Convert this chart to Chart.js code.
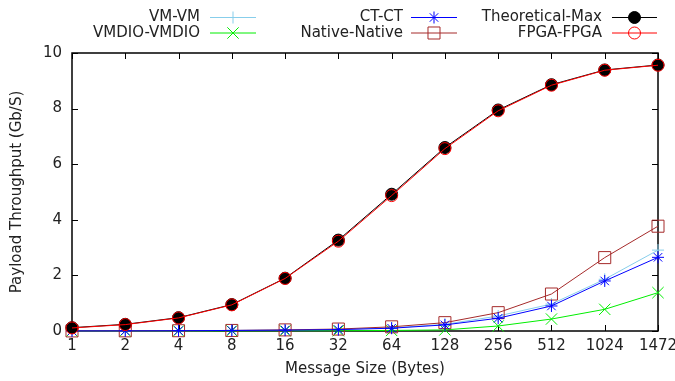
<!DOCTYPE html>
<html>
<head>
<meta charset="utf-8">
<script src="https://cdn.jsdelivr.net/npm/chart.js@4.4.1/dist/chart.umd.min.js"></script>
<style>
html,body{margin:0;padding:0;background:#fff;}
#wrap{width:675px;height:381px;position:relative;}
</style>
</head>
<body>
<div id="wrap"><canvas id="c" width="675" height="381"></canvas></div>
<script>
const categories = ["1","2","4","8","16","32","64","128","256","512","1024","1472"];
const yTicks = [0,2,4,6,8,10];
const vmVm      = [0.003,0.005,0.01,0.02,0.03,0.06,0.11,0.24,0.54,0.97,1.86,2.91];
const vmdio     = [0.001,0.002,0.004,0.006,0.01,0.01,0.02,0.04,0.18,0.43,0.78,1.38];
const ctCt      = [0.003,0.005,0.01,0.02,0.03,0.05,0.10,0.22,0.46,0.90,1.80,2.65];
const native    = [0.003,0.006,0.01,0.02,0.04,0.07,0.15,0.30,0.66,1.33,2.64,3.77];
const theoMax   = [0.12,0.24,0.48,0.95,1.90,3.27,4.92,6.60,7.95,8.86,9.39,9.57];
const fpga      = [0.11,0.23,0.47,0.94,1.89,3.23,4.87,6.56,7.92,8.84,9.38,9.56];

const FONT = '"DejaVu Sans", sans-serif';
const FS = 15;
const datasets = [
  {label:'VM-VM', data:vmVm, borderColor:'#87ceeb', backgroundColor:'#87ceeb', pointStyle:'cross', pointRadius:6, order:5},
  {label:'VMDIO-VMDIO', data:vmdio, borderColor:'#00ee00', backgroundColor:'#00ee00', pointStyle:'crossRot', pointRadius:8, order:4},
  {label:'CT-CT', data:ctCt, borderColor:'#0000ff', backgroundColor:'#0000ff', pointStyle:'star', pointRadius:6, order:2},
  {label:'Native-Native', data:native, borderColor:'#a52a2a', backgroundColor:'rgba(0,0,0,0)', pointStyle:'rect', pointRadius:8.5, order:3},
  {label:'Theoretical-Max', data:theoMax, borderColor:'#000000', backgroundColor:'#000000', pointStyle:'circle', pointRadius:6, order:1},
  {label:'FPGA-FPGA', data:fpga, borderColor:'#ff0000', backgroundColor:'rgba(0,0,0,0)', pointStyle:'circle', pointRadius:6, order:0}
].map(d => Object.assign({borderWidth:1, pointBorderWidth:1, tension:0, fill:false, pointBorderColor:d.borderColor, pointBackgroundColor:d.backgroundColor}, d));

const framePlugin = {
  id:'frame',
  beforeDatasetsDraw(chart){
    const ctx = chart.ctx, a = chart.chartArea;
    const xs = chart.scales.x, ys = chart.scales.y;
    ctx.save();
    ctx.strokeStyle = '#000';
    ctx.lineWidth = 1;
    ctx.beginPath();
    const tl = 6;
    yTicks.forEach(v => {
      const y = Math.round(ys.getPixelForValue(v)) + 0.5;
      ctx.moveTo(a.left, y); ctx.lineTo(a.left + tl, y);
      ctx.moveTo(a.right, y); ctx.lineTo(a.right - tl, y);
    });
    categories.forEach((c,i) => {
      const x = Math.round(xs.getPixelForValue(i)) + 0.5;
      ctx.moveTo(x, a.bottom); ctx.lineTo(x, a.bottom - tl);
      ctx.moveTo(x, a.top); ctx.lineTo(x, a.top + tl);
    });
    ctx.stroke();
    ctx.lineWidth = 1.5;
    ctx.strokeRect(a.left, a.top, a.right - a.left, a.bottom - a.top);
    ctx.fillStyle = '#222';
    ctx.font = FS + 'px ' + FONT;
    ctx.textBaseline = 'middle';
    ctx.textAlign = 'right';
    yTicks.forEach(v => ctx.fillText(String(v), a.left - 10, ys.getPixelForValue(v)));
    ctx.textAlign = 'center';
    categories.forEach((c,i) => ctx.fillText(c, xs.getPixelForValue(i), a.bottom + 15));
    ctx.fillText('Message Size (Bytes)', (a.left + a.right)/2, 369);
    ctx.save();
    ctx.translate(17, (a.top + a.bottom)/2);
    ctx.rotate(-Math.PI/2);
    ctx.fillText('Payload Throughput (Gb/S)', 0, 0);
    ctx.restore();
    // legend
    const cols = [{tx:200, s0:210, s1:256}, {tx:403, s0:411, s1:457}, {tx:602, s0:612, s1:657}];
    const rows = [17.5, 33];
    chart.data.datasets.forEach((d,i) => {
      const col = cols[Math.floor(i/2)], y = rows[i%2];
      ctx.fillStyle = '#222';
      ctx.textAlign = 'right';
      ctx.fillText(d.label, col.tx, y);
      ctx.strokeStyle = d.borderColor;
      ctx.lineWidth = 1;
      ctx.beginPath(); ctx.moveTo(col.s0, y); ctx.lineTo(col.s1, y); ctx.stroke();
      ctx.fillStyle = d.pointBackgroundColor;
      Chart.helpers.drawPoint(ctx, {pointStyle:d.pointStyle, radius:d.pointRadius, rotation:0, borderWidth:1}, (col.s0+col.s1)/2, y);
    });
    ctx.restore();
  }
};

new Chart(document.getElementById('c'), {
  type:'line',
  data:{labels:categories, datasets},
  options:{
    responsive:false,
    animation:false,
    layout:{padding:{left:72, right:17, top:53, bottom:50}},
    plugins:{legend:{display:false}, tooltip:{enabled:false}},
    scales:{
      x:{type:'category', display:false, offset:false},
      y:{display:false, min:0, max:10}
    },
    clip:false
  },
  plugins:[framePlugin]
});
</script>
</body>
</html>
